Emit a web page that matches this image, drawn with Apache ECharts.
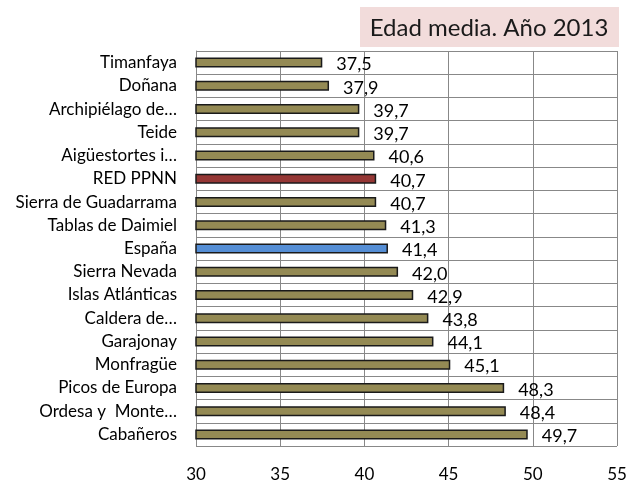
<!DOCTYPE html>
<html><head><meta charset="utf-8">
<script src="https://cdn.jsdelivr.net/npm/echarts@6/dist/echarts.min.js"></script>
<style>html,body{margin:0;padding:0;background:#fff}#c{width:628px;height:480px}</style>
</head><body><div id="c"></div>
<script>
const categories = ["Timanfaya","Doñana","Archipiélago de…","Teide","Aigüestortes i…","RED PPNN","Sierra de Guadarrama","Tablas de Daimiel","España","Sierra Nevada","Islas Atlánticas","Caldera de…","Garajonay","Monfragüe","Picos de Europa","Ordesa y  Monte…","Cabañeros"];
const values = [37.5,37.9,39.7,39.7,40.6,40.7,40.7,41.3,41.4,42.0,42.9,43.8,44.1,45.1,48.3,48.4,49.7];
const highlight = {"RED PPNN":"#953735","España":"#558ed5"};
const xTicks = [30,35,40,45,50,55];
const title = "Edad media. Año 2013";

const font = "Lato, 'Noto Sans', sans-serif";
const chart = echarts.init(document.getElementById('c'));
chart.setOption({
  animation:false,
  graphic:[{type:'rect',shape:{x:360,y:7,width:259,height:40},style:{fill:'#f2dcdb'}},
           {type:'text',x:489,y:28,style:{text:title,font:"24px "+font,fill:'#1a1a1a',align:'center',verticalAlign:'middle'}}],
  grid:{left:196,right:11,top:51,bottom:34,outerBoundsMode:'none',containLabel:false},
  xAxis:{type:'value',min:xTicks[0],max:xTicks[xTicks.length-1],interval:5,
    axisLine:{show:false},axisTick:{show:false},
    axisLabel:{margin:20,fontSize:17,color:'#000',fontFamily:font},
    splitLine:{lineStyle:{color:'#888',width:1}}},
  yAxis:{type:'category',data:categories,inverse:true,
    axisLine:{lineStyle:{color:'#888'}},axisTick:{show:false},
    axisLabel:{margin:19,fontSize:17,color:'#000',fontFamily:font},
    splitLine:{show:true,lineStyle:{color:'#888'}}},
  series:[{type:'bar',barWidth:10,
    data:values.map((v,i)=>({value:v,itemStyle:{color:highlight[categories[i]]||'#948a54',borderColor:'#1a1a1a',borderWidth:1.5}})),
    label:{show:true,position:'right',distance:14,offset:[0,2],fontSize:18,color:'#000',fontFamily:font,
      formatter:p=>p.value.toFixed(1).replace('.',',')}}]
});
</script></body></html>
